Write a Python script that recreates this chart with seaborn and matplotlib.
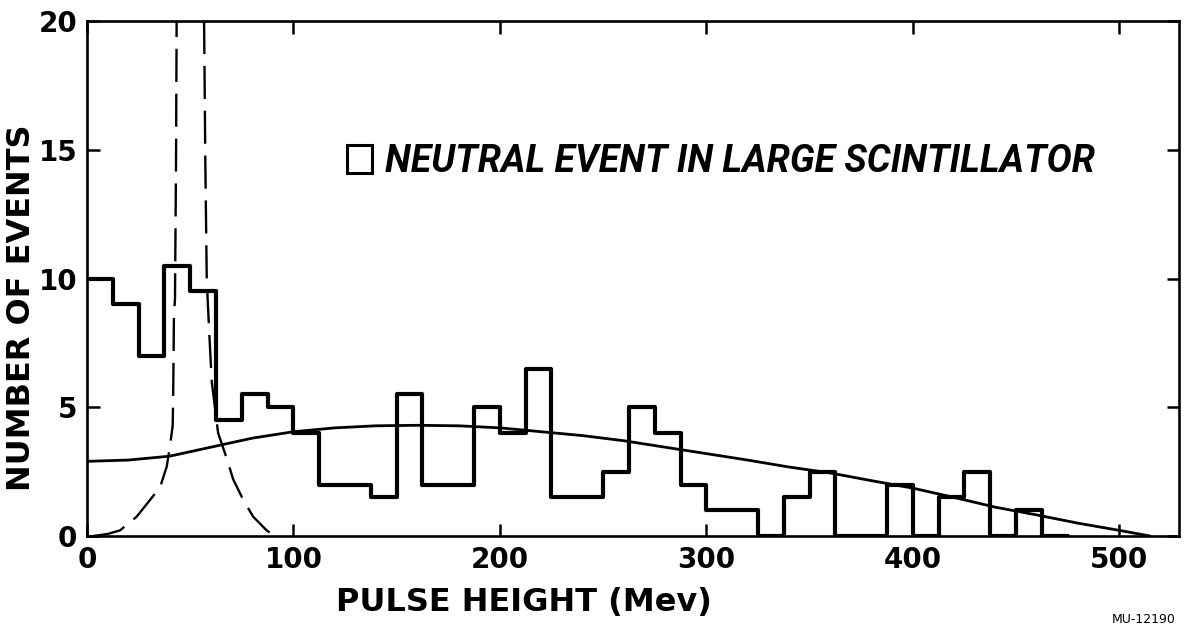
import numpy as np
import pandas as pd
import matplotlib
matplotlib.use("Agg")
import matplotlib.pyplot as plt
import seaborn as sns
from matplotlib.patches import Patch

# histogram: bins 12.5 Mev wide starting at 0
bin_edges = list(np.arange(0, 475 + 12.5, 12.5))
counts = [10, 9, 7, 10.5, 9.5, 4.5, 5.5, 5, 4, 2, 2, 1.5, 5.5, 2, 2, 5, 4, 6.5,
          1.5, 1.5, 2.5, 5, 4, 2, 1, 1, 0, 1.5, 2.5, 0, 0, 2, 0, 1.5, 2.5, 0, 1, 0]

# smooth solid curve
fit_x = [0, 20, 40, 60, 80, 100, 120, 140, 160, 180, 200, 220, 240, 260, 280,
         300, 320, 340, 360, 380, 400, 420, 440, 460, 480, 500, 515]
fit_y = [2.9, 2.95, 3.1, 3.45, 3.8, 4.05, 4.2, 4.28, 4.3, 4.28, 4.2, 4.05, 3.9,
         3.7, 3.45, 3.2, 2.95, 2.68, 2.45, 2.15, 1.86, 1.5, 1.12, 0.82, 0.5, 0.22, 0.0]

# dashed peak, two branches (it runs off the top of the frame)
peak_left_x = [3, 10, 16, 24, 30.5, 35.4, 38.6, 40.2, 41.5, 41.8, 42.1, 42.6, 43.1, 43.4]
peak_left_y = [0.0, 0.08, 0.22, 0.75, 1.4, 1.9, 2.7, 3.5, 4.3, 6.0, 8.6, 9.2, 14.5, 20]
peak_right_x = [56.7, 57.3, 58.0, 59.2, 60.4, 63.5, 67.7, 70.8, 75.7, 80.5, 87, 90]
peak_right_y = [20, 14.5, 9.9, 7.9, 6.0, 4.0, 3.0, 2.2, 1.4, 0.75, 0.22, 0.05]

x_ticks = [0, 100, 200, 300, 400, 500]
y_ticks = [0, 5, 10, 15, 20]

sns.set_style("ticks")
plt.rcParams['font.family'] = ['DejaVu Sans']
plt.rcParams['text.color'] = 'black'
plt.rcParams['xtick.color'] = 'black'
plt.rcParams['ytick.color'] = 'black'

fig = plt.figure(figsize=(11.86, 6.27), dpi=100)
ax = fig.add_axes([0.0734, 0.1451, 0.9207, 0.8214])

df = pd.DataFrame({"pulse": np.array(bin_edges[:-1]) + 6.25, "events": counts})
sns.histplot(data=df, x="pulse", weights="events", bins=bin_edges,
             element="step", fill=False, color="black", linewidth=3.0, ax=ax)

sns.lineplot(x=fit_x, y=fit_y, color="black", linewidth=2.0, ax=ax)
for px, py in [(peak_left_x, peak_left_y), (peak_right_x, peak_right_y)]:
    sns.lineplot(x=px, y=py, sort=False, estimator=None, color="black",
                 linewidth=1.7, linestyle=(0, (14, 5)), ax=ax)

ax.set_xlim(0, 529)
ax.set_ylim(0, 20)
ax.set_xticks(x_ticks)
ax.set_yticks(y_ticks)
ax.set_xlabel("")
ax.set_ylabel("")
ax.tick_params(which="both", direction="in", top=True, right=True,
               length=9, width=1.8, labelsize=20, pad=7)
for lab in ax.get_xticklabels() + ax.get_yticklabels():
    lab.set_fontweight("bold")
for s in ax.spines.values():
    s.set_linewidth(1.9)
    s.set_color("black")

fig.text(524 / 1186, 1 - 603 / 627, "PULSE HEIGHT (Mev)", fontsize=23,
         fontweight="bold", ha="center", va="center")
fig.text(22 / 1186, 1 - 308 / 627, "NUMBER OF EVENTS", fontsize=23,
         fontweight="bold", rotation=90, ha="center", va="center")

handle = Patch(facecolor="none", edgecolor="black", linewidth=2.2,
               label="NEUTRAL EVENT IN LARGE SCINTILLATOR")
ax.legend(handles=[handle], loc="center left",
          bbox_to_anchor=(347 / 1186, 1 - 162 / 627), bbox_transform=fig.transFigure,
          frameon=False, borderpad=0, borderaxespad=0,
          handlelength=0.67, handleheight=0.77, handletextpad=0.35,
          prop={"family": ["Roboto", "DejaVu Sans"],
                "style": "italic", "weight": "bold", "size": 27})

fig.text(1112 / 1186, 0.002, "MU-12190", fontsize=9, va="bottom")

fig.savefig("out.png", dpi=100)
